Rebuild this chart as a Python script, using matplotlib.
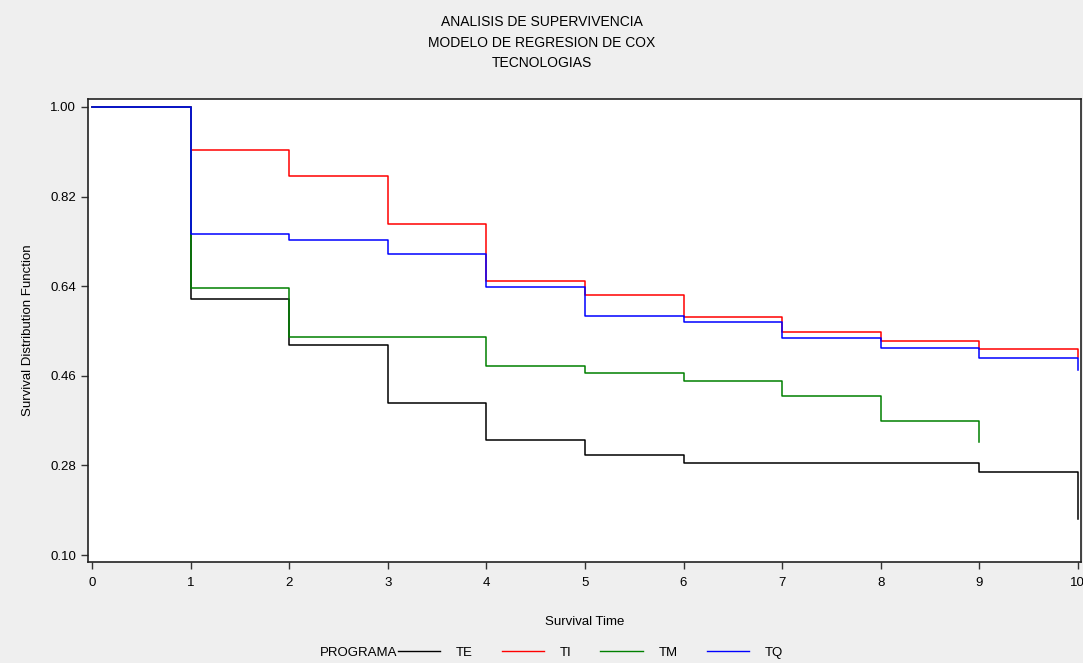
import matplotlib.pyplot as plt
from matplotlib.lines import Line2D

plt.rcParams['font.family'] = ['Liberation Sans Narrow', 'Liberation Sans', 'DejaVu Sans']

# survival estimates
times_te = [0, 1, 2, 3, 4, 5, 6, 7, 8, 9, 10]
surv_te = [1.0, 0.614, 0.522, 0.405, 0.331, 0.301, 0.285, 0.285, 0.285, 0.267, 0.172]
times_ti = [0, 1, 2, 3, 4, 5, 6, 7, 8, 9, 10]
surv_ti = [1.0, 0.914, 0.861, 0.765, 0.650, 0.622, 0.578, 0.548, 0.530, 0.514, 0.498]
times_tm = [0, 1, 2, 3, 4, 5, 6, 7, 8, 9]
surv_tm = [1.0, 0.636, 0.538, 0.538, 0.480, 0.466, 0.450, 0.419, 0.369, 0.327]
times_tq = [0, 1, 2, 3, 4, 5, 6, 7, 8, 9, 10]
surv_tq = [1.0, 0.745, 0.733, 0.705, 0.638, 0.580, 0.568, 0.536, 0.516, 0.496, 0.472]

groups = ["TE", "TI", "TM", "TQ"]
colors = ["black", "red", "green", "blue"]
y_ticks = [0.10, 0.28, 0.46, 0.64, 0.82, 1.00]
x_ticks = list(range(11))

bg = "#efefef"
fig = plt.figure(figsize=(10.83, 6.63), dpi=100, facecolor=bg)
ax = fig.add_axes([0.0813, 0.1523, 0.9167, 0.6984])

series = [(times_te, surv_te), (times_ti, surv_ti), (times_tm, surv_tm), (times_tq, surv_tq)]
for (t, s), c in zip(series, colors):
    ax.step(t, s, where="post", color=c, linewidth=1.1)

ax.set_xlim(-0.04, 10.03)
ax.set_ylim(0.086, 1.016)
ax.set_xticks(x_ticks)
ax.set_yticks(y_ticks)
ax.set_yticklabels([f"{v:.2f}" for v in y_ticks])
ax.tick_params(direction="out", length=5, width=1, labelsize=9.5, color="#333333")
ax.tick_params(axis="x", pad=6)
for sp in ax.spines.values():
    sp.set_linewidth(1.2)
    sp.set_color("#222222")

ax.set_xlabel("Survival Time", fontsize=9.5, labelpad=19)
ax.set_ylabel("Survival Distribution Function", fontsize=9.5, labelpad=12)

fig.text(0.5, 0.967, "ANALISIS DE SUPERVIVENCIA", ha="center", va="center", fontsize=10)
fig.text(0.5, 0.935, "MODELO DE REGRESION DE COX", ha="center", va="center", fontsize=10)
fig.text(0.5, 0.905, "TECNOLOGIAS", ha="center", va="center", fontsize=10)

handles = [Line2D([], [], color=c, linewidth=1.0) for c in colors]
fig.text(0.367, 0.015, "PROGRAMA", ha="right", va="center", fontsize=9.5)
fig.legend(handles, groups, loc="center", bbox_to_anchor=(0.545, 0.016), ncol=4,
           frameon=False, fontsize=9.5, handlelength=3.2, columnspacing=2.2,
           handletextpad=1.2)

fig.savefig("out.png", dpi=100, facecolor=bg)
